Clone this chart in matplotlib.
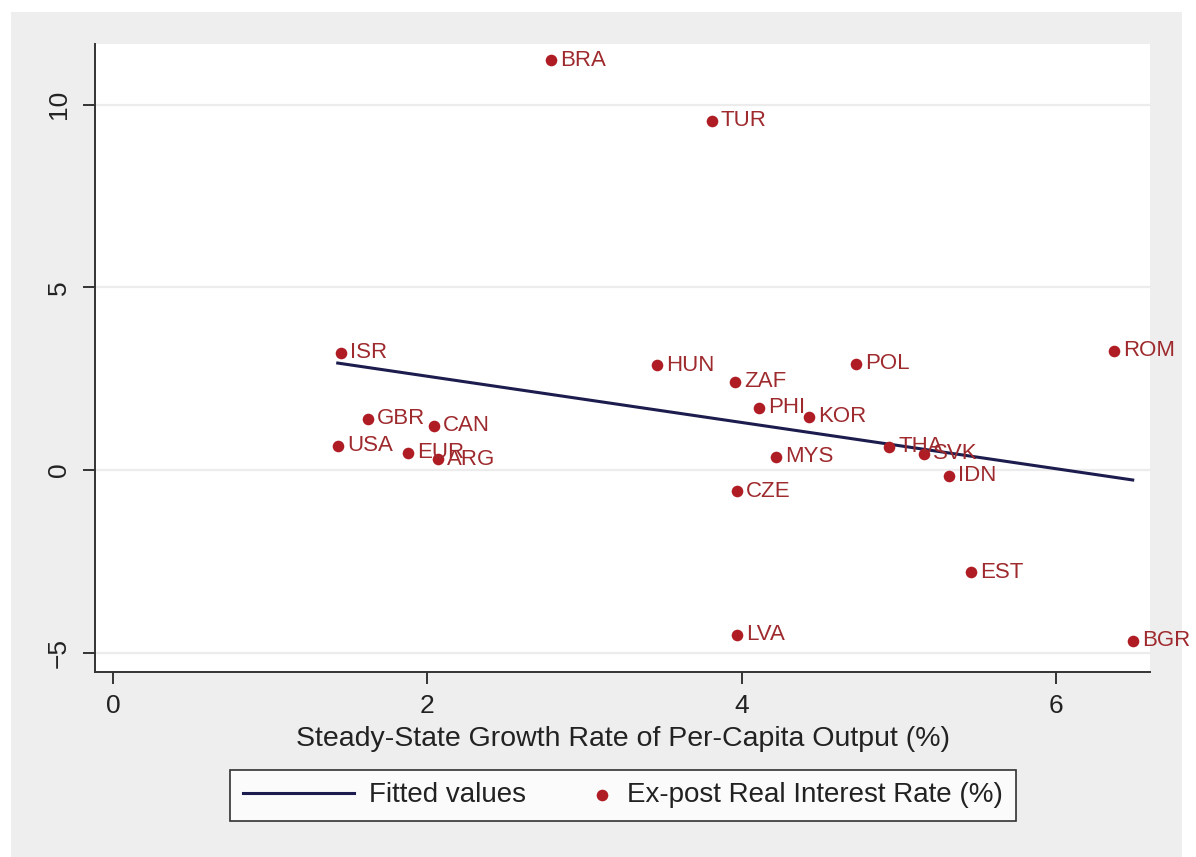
import numpy as np
import matplotlib
matplotlib.use("Agg")
import matplotlib.pyplot as plt
from matplotlib.patches import Rectangle
from matplotlib.legend_handler import HandlerPathCollection

countries = ["BRA", "TUR", "ISR", "HUN", "ZAF", "POL", "ROM", "PHI", "KOR", "GBR", "CAN",
             "USA", "EUR", "ARG", "MYS", "THA", "SVK", "IDN", "CZE", "EST", "LVA", "BGR"]
growth = [2.79, 3.81, 1.45, 3.46, 3.96, 4.73, 6.37, 4.11, 4.43, 1.62, 2.04,
          1.43, 1.88, 2.07, 4.22, 4.94, 5.16, 5.32, 3.97, 5.46, 3.97, 6.49]
real_rate = [11.21, 9.56, 3.21, 2.86, 2.42, 2.91, 3.27, 1.70, 1.46, 1.40, 1.21,
             0.66, 0.47, 0.30, 0.36, 0.63, 0.44, -0.16, -0.58, -2.80, -4.51, -4.67]


class RightMarkerHandler(HandlerPathCollection):
    # put the legend dot at the right end of its handle box, next to the text
    def get_xdata(self, legend, xdescent, ydescent, width, height, fontsize):
        xd = np.array([-xdescent + width - 7.0])
        return xd, xd


plt.rcParams['font.family'] = ['Liberation Sans', 'DejaVu Sans']

W, H = 1196, 857
fig = plt.figure(figsize=(W / 100, H / 100), dpi=100, facecolor='white')
# grey graph region
fig.patches.append(Rectangle((11 / W, 0), (1182 - 11) / W, 1 - 12 / H,
                             transform=fig.transFigure, facecolor='#eeeeee',
                             edgecolor='none', zorder=-10))
ax = fig.add_axes([95 / W, 1 - 672 / H, (1150 - 95) / W, (672 - 44) / H])
ax.set_facecolor('white')

x = np.array(growth)
y = np.array(real_rate)
slope, intercept = np.polyfit(x, y, 1)
xs = np.array([x.min(), x.max()])
ax.plot(xs, intercept + slope * xs, color='#1c1c4e', lw=2.2, zorder=2,
        label='Fitted values')
pts = ax.scatter(x, y, s=70, color='#b01c24', zorder=3, linewidths=0,
                 label='Ex-post Real Interest Rate (%)')
for name, xi, yi in zip(countries, x, y):
    ax.annotate(name, (xi, yi), xytext=(6.5, 0), textcoords='offset points',
                va='center', ha='left', fontsize=16, color='#9e2a2e', zorder=4)

ax.set_xlim(-0.115, 6.60)
ax.set_ylim(-5.53, 11.66)
ax.set_xticks([0, 2, 4, 6])
ax.set_yticks([-5, 0, 5, 10])
ax.yaxis.grid(True, color='#ececec', lw=1.6)
ax.set_axisbelow(True)
for side in ['top', 'right']:
    ax.spines[side].set_visible(False)
for side in ['left', 'bottom']:
    ax.spines[side].set_color('#333333')
    ax.spines[side].set_linewidth(1.4)
ax.tick_params(direction='out', length=8.5, width=1.4, color='#333333',
               labelsize=19, labelcolor='#222222')
ax.tick_params(axis='x', pad=7)
ax.tick_params(axis='y', pad=9)
plt.setp(ax.get_yticklabels(), rotation=90, va='center')
ax.set_xlabel('Steady-State Growth Rate of Per-Capita Output (%)', fontsize=20.5,
              color='#222222', labelpad=6)

leg = ax.legend(loc='center', bbox_to_anchor=(623 / W, 1 - 795.5 / H),
                bbox_transform=fig.transFigure, ncol=2, fontsize=20,
                handler_map={pts: RightMarkerHandler()},
                frameon=True, fancybox=False, edgecolor='black',
                handlelength=4.0, handletextpad=0.55, columnspacing=-0.9,
                borderpad=0.45, borderaxespad=0)
leg.get_frame().set_linewidth(1.2)
for t in leg.get_texts():
    t.set_color('#222222')

fig.savefig('out.png', dpi=100, facecolor=fig.get_facecolor())
